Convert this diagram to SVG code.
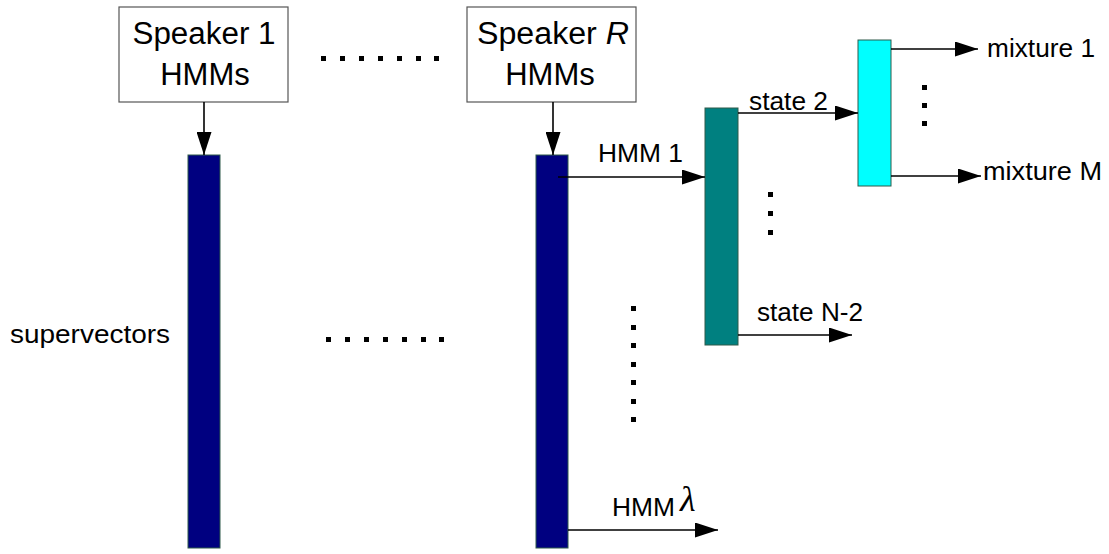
<svg xmlns="http://www.w3.org/2000/svg" width="1109" height="554" viewBox="0 0 1109 554">
  <style>
    .box { fill: #ffffff; stroke: #555555; stroke-width: 1.2; }
    .bar { stroke: #2f5a4a; stroke-width: 1; }
    .navy { fill: #000080; }
    .teal { fill: #008080; }
    .cyan { fill: #00ffff; }
    .lbl { font-family: "Liberation Sans", Arial, sans-serif; fill: #000000; }
    .big { font-size: 31px; }
    .mid { font-size: 26px; }
    .conn { stroke: #000000; stroke-width: 1.6; fill: none; marker-end: url(#arrow); }
    .dot { fill: #000000; }
  </style>
  <defs>
    <marker id="arrow" viewBox="0 0 23 15" refX="23" refY="7.5" markerWidth="23" markerHeight="15" markerUnits="userSpaceOnUse" orient="auto">
      <path d="M0,0 L23,7.5 L0,15 Z" fill="#000000"/>
    </marker>
    <rect id="d" width="5" height="5"/>
  </defs>
  <rect width="1109" height="554" fill="#ffffff"/>

  <!-- speaker model boxes -->
  <g id="speaker1">
    <rect class="box" x="119" y="7" width="169" height="95"/>
    <text class="lbl big" x="204" y="44" text-anchor="middle" textLength="143" lengthAdjust="spacingAndGlyphs">Speaker 1</text>
    <text class="lbl big" x="205" y="85" text-anchor="middle">HMMs</text>
  </g>
  <g id="speakerR">
    <rect class="box" x="467" y="7" width="169" height="95"/>
    <text class="lbl big" x="553" y="44" text-anchor="middle" textLength="152" lengthAdjust="spacingAndGlyphs">Speaker <tspan font-style="italic">R</tspan></text>
    <text class="lbl big" x="550" y="85" text-anchor="middle">HMMs</text>
  </g>

  <!-- supervector bars -->
  <g id="supervector1">
    <rect class="bar navy" x="188" y="155" width="32" height="393"/>
  </g>
  <g id="supervectorR">
    <rect class="bar navy" x="536" y="155" width="32" height="393"/>
  </g>
  <g id="hmm1">
    <rect class="bar teal" x="705" y="108" width="33" height="237"/>
  </g>
  <g id="state2">
    <rect class="bar cyan" x="858" y="40" width="33" height="146"/>
  </g>

  <!-- labels -->
  <g id="labels">
    <text class="lbl mid" x="10" y="343" textLength="160" lengthAdjust="spacingAndGlyphs">supervectors</text>
    <text class="lbl mid" x="598" y="162" textLength="85" lengthAdjust="spacingAndGlyphs">HMM 1</text>
    <text class="lbl mid" x="749" y="110" textLength="79" lengthAdjust="spacingAndGlyphs">state 2</text>
    <text class="lbl mid" x="757" y="321" textLength="106" lengthAdjust="spacingAndGlyphs">state N-2</text>
    <text class="lbl mid" x="987" y="57" textLength="108" lengthAdjust="spacingAndGlyphs">mixture 1</text>
    <text class="lbl mid" x="983" y="180" textLength="119" lengthAdjust="spacingAndGlyphs">mixture M</text>
    <text class="lbl mid" x="612" y="516" textLength="63" lengthAdjust="spacingAndGlyphs">HMM</text>
    <text x="680" y="511" font-family="'Liberation Serif', 'Times New Roman', serif" font-style="italic" font-size="36px">λ</text>
  </g>

  <!-- connectors -->
  <g id="connectors">
    <line class="conn" x1="204" y1="102" x2="204" y2="155"/>
    <line class="conn" x1="553" y1="102" x2="553" y2="155"/>
    <line class="conn" x1="558" y1="177" x2="705" y2="177"/>
    <line class="conn" x1="738" y1="113" x2="858" y2="113"/>
    <line class="conn" x1="891" y1="49" x2="978" y2="49"/>
    <line class="conn" x1="891" y1="176" x2="981" y2="176"/>
    <line class="conn" x1="738" y1="335" x2="852" y2="335"/>
    <line class="conn" x1="568" y1="530" x2="718" y2="530"/>
  </g>

  <!-- ellipsis dots -->
  <g id="ellipses" class="dot">
    <use href="#d" x="321" y="56"/>
    <use href="#d" x="340" y="56"/>
    <use href="#d" x="359" y="56"/>
    <use href="#d" x="378" y="56"/>
    <use href="#d" x="397" y="56"/>
    <use href="#d" x="416" y="56"/>
    <use href="#d" x="434" y="56"/>

    <use href="#d" x="326" y="337"/>
    <use href="#d" x="345" y="337"/>
    <use href="#d" x="364" y="337"/>
    <use href="#d" x="383" y="337"/>
    <use href="#d" x="402" y="337"/>
    <use href="#d" x="421" y="337"/>
    <use href="#d" x="439" y="337"/>

    <use href="#d" x="631" y="306"/>
    <use href="#d" x="631" y="325"/>
    <use href="#d" x="631" y="343"/>
    <use href="#d" x="631" y="362"/>
    <use href="#d" x="631" y="380"/>
    <use href="#d" x="631" y="399"/>
    <use href="#d" x="631" y="417"/>

    <use href="#d" x="768" y="192"/>
    <use href="#d" x="768" y="211"/>
    <use href="#d" x="768" y="230"/>

    <use href="#d" x="922" y="85"/>
    <use href="#d" x="922" y="103"/>
    <use href="#d" x="922" y="121"/>
  </g>
</svg>
